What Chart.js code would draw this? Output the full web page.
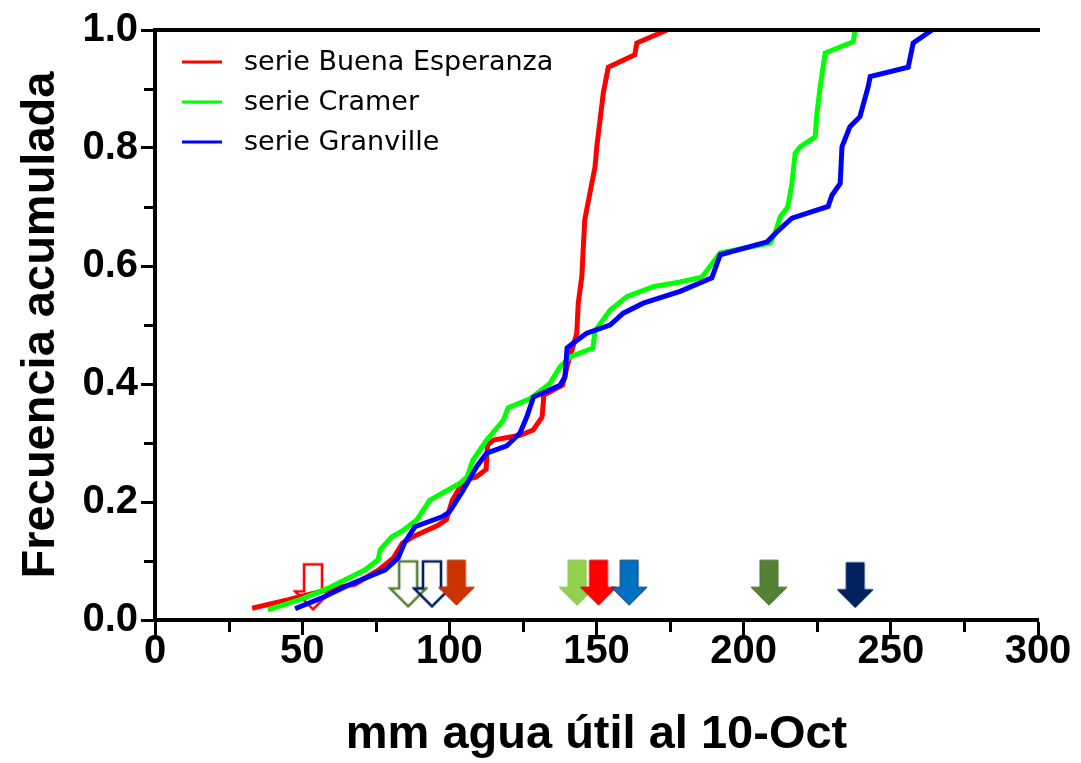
<!DOCTYPE html>
<html><head><meta charset="utf-8">
<script src="https://cdn.jsdelivr.net/npm/chart.js@4.4.1/dist/chart.umd.min.js"></script>
<style>html,body{margin:0;padding:0;background:#fff;}</style>
</head><body>
<canvas id="c" width="1081" height="763"></canvas>
<script>
// ---- data ----
const seriesNames = ['serie Buena Esperanza', 'serie Cramer', 'serie Granville'];

const buenaX = [33,45,59,68,76,81,84,88,96,99,101,105,109,112.5,113,115,124,128.5,131.5,132,132,138.5,140.3,142,143.3,143.8,145,146,148.4,149.5,150.1,151.2,152.3,154,163,163.7,174];
const buenaY = [0.02,0.034,0.052,0.061,0.085,0.105,0.13,0.142,0.16,0.17,0.203,0.237,0.242,0.255,0.297,0.305,0.313,0.322,0.344,0.373,0.381,0.398,0.435,0.463,0.486,0.537,0.581,0.678,0.74,0.768,0.802,0.847,0.893,0.937,0.958,0.978,1.0];

const cramerX = [38.4,50,58.8,71.4,75.8,76.5,80.5,84,89,93.4,103.6,106,108,112.7,118.3,120,127.4,134.2,137.6,141,148.8,149.5,154.6,160.3,169.3,178.4,185.8,192,209,210.7,212.4,215,216.4,217.5,219.2,224.3,224.9,226,227.7,237.2,237.9];
const cramerY = [0.017,0.036,0.054,0.085,0.102,0.119,0.141,0.151,0.17,0.203,0.232,0.242,0.271,0.305,0.338,0.36,0.375,0.401,0.429,0.446,0.461,0.49,0.525,0.548,0.565,0.573,0.581,0.622,0.639,0.656,0.683,0.7,0.74,0.791,0.802,0.819,0.859,0.904,0.961,0.98,1.0];

const granvilleX = [47.6,57,65.6,78.2,82.6,84.9,88.3,97.5,100,104.7,109.3,112.7,119.5,124,126.3,128.6,137.6,139.3,140,142,146.7,154.6,159.1,165.9,178.4,189.2,192,208,211.3,216.4,228.7,230,232.8,233.4,236.1,239.5,242.3,243,255.9,257.6,264];
const granvilleY = [0.019,0.038,0.059,0.085,0.105,0.132,0.158,0.175,0.183,0.22,0.26,0.283,0.295,0.317,0.344,0.378,0.398,0.412,0.461,0.469,0.486,0.5,0.52,0.537,0.557,0.58,0.619,0.641,0.658,0.681,0.701,0.72,0.74,0.802,0.836,0.853,0.904,0.921,0.937,0.978,1.0];

// arrow markers
const arrowX = [53.7, 86, 94.1, 102.4, 143.4, 150.7, 161.1, 208.6, 237.9];
const arrowY = [0.057, 0.062, 0.062, 0.064, 0.064, 0.064, 0.064, 0.064, 0.06];

// tick definitions
const xMajorTicks = [0, 50, 100, 150, 200, 250, 300];
const xMinorTicks = [25, 75, 125, 175, 225, 275];
const yMajorTicks = [0.0, 0.2, 0.4, 0.6, 0.8, 1.0];
const yMinorTicks = [0.1, 0.3, 0.5, 0.7, 0.9];

const xTitle = 'mm agua útil al 10-Oct';
const yTitle = 'Frecuencia acumulada';

// ---- styles (separate from data) ----
const lineColors = ['#ff0000', '#00ff00', '#0000ff'];
const arrowStyles = [
  {color:'#ff0000', hollow:true},
  {color:'#548235', hollow:true},
  {color:'#002060', hollow:true},
  {color:'#cc3300', hollow:false, stroke:'#b83000'},
  {color:'#92d050', hollow:false, stroke:'#86c04a'},
  {color:'#ff0000', hollow:false, stroke:'#e00000'},
  {color:'#0070c0', hollow:false, stroke:'#1f3864'},
  {color:'#548235', hollow:false, stroke:'#4a7530'},
  {color:'#002060', hollow:false, stroke:'#002060'}
];

function makeArrow(st) {
  const cv = document.createElement('canvas');
  cv.width = 40; cv.height = 50;
  const g = cv.getContext('2d');
  g.beginPath();
  g.moveTo(11, 3); g.lineTo(29, 3); g.lineTo(29, 30); g.lineTo(38, 30);
  g.lineTo(20, 48); g.lineTo(2, 30); g.lineTo(11, 30); g.closePath();
  if (st.hollow) {
    g.lineWidth = 2.6; g.strokeStyle = st.color; g.lineJoin = 'miter'; g.stroke();
  } else {
    g.fillStyle = st.color; g.fill();
    g.lineWidth = 1; g.strokeStyle = st.stroke || st.color; g.stroke();
  }
  return cv;
}
const arrowImages = arrowStyles.map(makeArrow);

function pts(xs, ys) { return xs.map((x, i) => ({x: x, y: ys[i]})); }

const minorTicksPlugin = {
  id: 'minorTicks',
  afterDraw(chart) {
    const ctx = chart.ctx, ca = chart.chartArea;
    const xs = chart.scales.x, ys = chart.scales.y;
    ctx.save();
    ctx.strokeStyle = '#000';
    ctx.lineWidth = 3;
    xMinorTicks.forEach(v => {
      const px = Math.round(xs.getPixelForValue(v)) + 0.5;
      ctx.beginPath(); ctx.moveTo(px, ca.bottom); ctx.lineTo(px, ca.bottom + 12); ctx.stroke();
    });
    yMinorTicks.forEach(v => {
      const py = Math.round(ys.getPixelForValue(v)) + 0.5;
      ctx.beginPath(); ctx.moveTo(ca.left, py); ctx.lineTo(ca.left - 11, py); ctx.stroke();
    });
    // top frame line
    ctx.lineWidth = 4;
    ctx.beginPath(); ctx.moveTo(ca.left - 2, ca.top); ctx.lineTo(ca.right + 2, ca.top); ctx.stroke();
    ctx.restore();
  }
};

const legendPlugin = {
  id: 'insideLegend',
  afterDraw(chart) {
    const ctx = chart.ctx;
    ctx.save();
    ctx.font = '27px "DejaVu Sans"';
    ctx.textBaseline = 'middle';
    ctx.fillStyle = '#000';
    seriesNames.forEach((name, i) => {
      const y = 62 + i * 40;
      ctx.strokeStyle = lineColors[i];
      ctx.lineWidth = 3;
      ctx.beginPath(); ctx.moveTo(182, y); ctx.lineTo(222, y); ctx.stroke();
      ctx.fillText(name, 244, y + 1);
    });
    ctx.restore();
  }
};

const tickFont = {family: '"Liberation Sans", Arial, sans-serif', size: 40, weight: 'bold'};
const titleFont = {family: '"Liberation Sans", Arial, sans-serif', size: 47, weight: 'bold', lineHeight: 1};

new Chart(document.getElementById('c'), {
  type: 'scatter',
  data: {
    datasets: [
      {label: seriesNames[0], data: pts(buenaX, buenaY), showLine: true, borderColor: lineColors[0], backgroundColor: lineColors[0], borderWidth: 5, pointRadius: 0, tension: 0, order: 2},
      {label: seriesNames[1], data: pts(cramerX, cramerY), showLine: true, borderColor: lineColors[1], backgroundColor: lineColors[1], borderWidth: 5, pointRadius: 0, tension: 0, order: 1},
      {label: seriesNames[2], data: pts(granvilleX, granvilleY), showLine: true, borderColor: lineColors[2], backgroundColor: lineColors[2], borderWidth: 5, pointRadius: 0, tension: 0, order: 0},
      {label: 'arrows', data: pts(arrowX, arrowY), showLine: false, pointStyle: arrowImages, pointRadius: 5, order: 3}
    ]
  },
  options: {
    responsive: false,
    animation: false,
    devicePixelRatio: 1,
    events: [],
    layout: {padding: {left: 0, right: 43, top: 30, bottom: 0}},
    plugins: {legend: {display: false}, tooltip: {enabled: false}},
    scales: {
      x: {
        type: 'linear', min: 0, max: 300,
        afterFit(s) { s.height = 143; },
        afterBuildTicks(s) { s.ticks = xMajorTicks.map(v => ({value: v})); },
        ticks: {font: tickFont, color: '#000', padding: -7, autoSkip: false, maxRotation: 0, callback: v => String(v)},
        grid: {drawOnChartArea: false, drawTicks: true, tickLength: 15, tickWidth: 3, tickColor: '#000'},
        border: {display: true, width: 4, color: '#000'},
        title: {display: true, text: xTitle, font: titleFont, color: '#000', padding: {top: 0, bottom: 4}}
      },
      y: {
        type: 'linear', min: 0, max: 1,
        afterFit(s) { s.width = 155; },
        afterBuildTicks(s) { s.ticks = yMajorTicks.map(v => ({value: v})); },
        ticks: {font: tickFont, color: '#000', padding: 3, autoSkip: false, callback: v => v.toFixed(1)},
        grid: {drawOnChartArea: false, drawTicks: true, tickLength: 14, tickWidth: 3, tickColor: '#000'},
        border: {display: true, width: 4, color: '#000'},
        title: {display: true, text: yTitle, font: titleFont, color: '#000', padding: {top: 18, bottom: 0}}
      }
    }
  },
  plugins: [minorTicksPlugin, legendPlugin]
});
</script>
</body></html>
